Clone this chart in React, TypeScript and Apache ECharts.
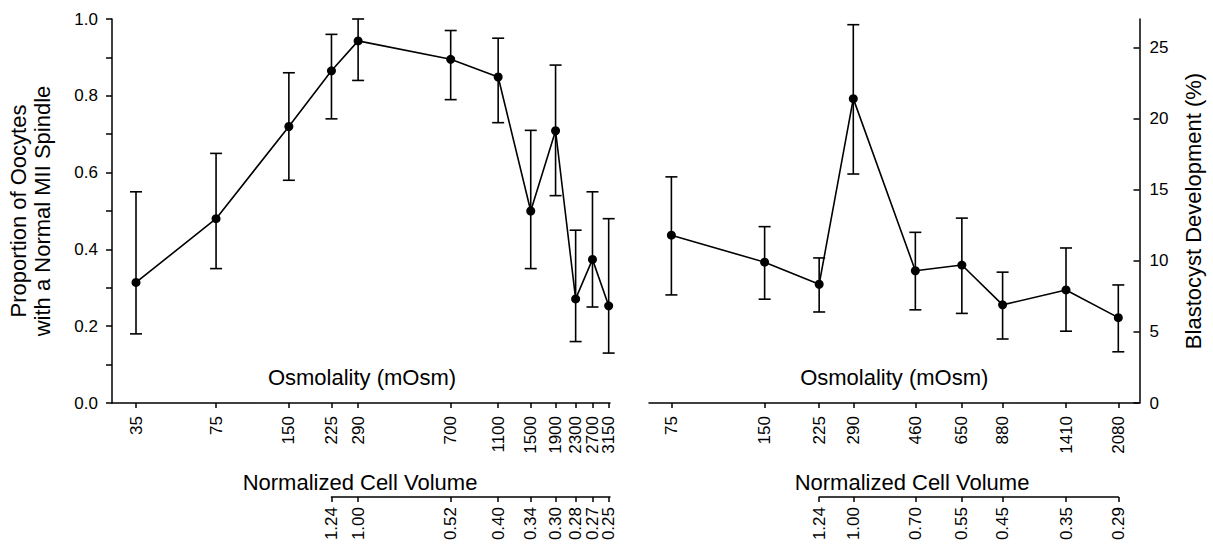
import React, { useEffect, useRef } from 'react';
import * as echarts from 'echarts';

// ---- Left panel: spindle proportion vs osmolality ----
const leftOsm = [35, 75, 150, 225, 290, 700, 1100, 1500, 1900, 2300, 2700, 3150];
const leftSpindle = [0.314, 0.48, 0.72, 0.865, 0.943, 0.895, 0.849, 0.5, 0.709, 0.271, 0.374, 0.253];
const leftLow = [0.18, 0.35, 0.58, 0.74, 0.84, 0.79, 0.73, 0.35, 0.54, 0.16, 0.25, 0.13];
const leftHigh = [0.55, 0.65, 0.86, 0.96, 1.0, 0.97, 0.95, 0.71, 0.88, 0.45, 0.55, 0.48];
const leftNcvOsm = [225, 290, 700, 1100, 1500, 1900, 2300, 2700, 3150];
const leftNcv = ['1.24', '1.00', '0.52', '0.40', '0.34', '0.30', '0.28', '0.27', '0.25'];
const leftYTicks = [0, 0.1, 0.2, 0.3, 0.4, 0.5, 0.6, 0.7, 0.8, 0.9, 1.0];
const leftYLabels = [0, 0.2, 0.4, 0.6, 0.8, 1.0];
const leftXRange = [27.85, 3190];

// ---- Right panel: blastocyst development vs osmolality ----
const rightOsm = [75, 150, 225, 290, 460, 650, 880, 1410, 2080];
const rightBlast = [11.8, 9.9, 8.35, 21.4, 9.3, 9.7, 6.9, 7.95, 6.0];
const rightLow = [7.6, 7.3, 6.4, 16.1, 6.55, 6.3, 4.5, 5.05, 3.6];
const rightHigh = [15.9, 12.4, 10.2, 26.6, 12.0, 13.0, 9.2, 10.9, 8.3];
const rightNcvOsm = [225, 290, 460, 650, 880, 1410, 2080];
const rightNcv = ['1.24', '1.00', '0.70', '0.55', '0.45', '0.35', '0.29'];
const rightYTicks = [0, 5, 10, 15, 20, 25];
const rightYRange = [0, 27];
const rightXRange = [63.5, 2435];

const FONT = 'Arial, "Liberation Sans", Helvetica, sans-serif';
const lg = (v: number) => Math.log10(v);

// layout (pixels)
const G0 = { left: 112, top: 19, width: 498, height: 384 };
const G1 = { left: 649, top: 19, width: 490.5, height: 384 };
const NCV_Y = 497;

export default function App() {
  const ref = useRef<HTMLDivElement>(null);

  useEffect(() => {
    document.body.style.margin = '0';
    if (!ref.current) return;
    const chart = echarts.init(ref.current, undefined, { renderer: 'svg' });

    const lMin = lg(leftXRange[0]);
    const lMax = lg(leftXRange[1]);
    const rMin = lg(rightXRange[0]);
    const rMax = lg(rightXRange[1]);

    // NCV sub-axis grids share the scale of the main axes
    const lNcvMin = lg(leftNcvOsm[0]);
    const lNcvLeft = G0.left + ((lNcvMin - lMin) / (lMax - lMin)) * G0.width;
    const G2 = { left: lNcvLeft, top: NCV_Y - 10, width: G0.left + G0.width - lNcvLeft, height: 10 };
    const rNcvMin = lg(rightNcvOsm[0]);
    const rNcvMax = lg(rightNcvOsm[rightNcvOsm.length - 1]);
    const rNcvLeft = G1.left + ((rNcvMin - rMin) / (rMax - rMin)) * G1.width;
    const rNcvRight = G1.left + ((rNcvMax - rMin) / (rMax - rMin)) * G1.width;
    const G3 = { left: rNcvLeft, top: NCV_Y - 10, width: rNcvRight - rNcvLeft, height: 10 };

    const lineStyle = { color: '#000', width: 1.5 };
    const labelStyle = {
      color: '#000', fontSize: 17, fontFamily: FONT,
      showMinLabel: true, showMaxLabel: true, hideOverlap: false,
    };

    const osmLabel = (v: number) => String(Math.round(Math.pow(10, v)));
    const ncvLabel = (osm: number[], lab: string[]) => (v: number) => {
      const i = osm.findIndex((o) => Math.abs(lg(o) - v) < 1e-6);
      return i >= 0 ? lab[i] : '';
    };
    const even = (a: number[]) => a.filter((_, i) => i % 2 === 0);
    const odd = (a: number[]) => a.filter((_, i) => i % 2 === 1);

    // main axis: line + all ticks + given labels; overlay axis: only labels
    const xAxisMain = (gridIndex: number, min: number, max: number, ticks: number[], labels: number[], margin: number, fmt: any) => ({
      type: 'value', gridIndex, min, max, position: 'bottom',
      axisLine: { show: true, lineStyle }, splitLine: { show: false },
      axisTick: { show: true, customValues: ticks, length: 5, lineStyle },
      axisLabel: { ...labelStyle, customValues: labels, rotate: 90, margin, formatter: fmt },
    });
    const xAxisOverlay = (gridIndex: number, min: number, max: number, labels: number[], margin: number, fmt: any) => ({
      type: 'value', gridIndex, min, max, position: 'bottom',
      axisLine: { show: false }, splitLine: { show: false }, axisTick: { show: false },
      axisLabel: { ...labelStyle, customValues: labels, rotate: 90, margin, formatter: fmt },
    });

    const errRender = (params: any, api: any) => {
      const x = api.value(0);
      const lo = api.value(1);
      const hi = api.value(2);
      const pHi = api.coord([x, hi]);
      const pLo = api.coord([x, lo]);
      const w = 6;
      const style = { stroke: '#000', lineWidth: 1.6, fill: 'none' };
      return {
        type: 'group',
        children: [
          { type: 'line', shape: { x1: pHi[0], y1: pHi[1], x2: pLo[0], y2: pLo[1] }, style },
          { type: 'line', shape: { x1: pHi[0] - w, y1: pHi[1], x2: pHi[0] + w, y2: pHi[1] }, style },
          { type: 'line', shape: { x1: pLo[0] - w, y1: pLo[1], x2: pLo[0] + w, y2: pLo[1] }, style },
        ],
      };
    };

    const leftLog = leftOsm.map(lg);
    const rightLog = rightOsm.map(lg);
    const leftNcvLog = leftNcvOsm.map(lg);
    const rightNcvLog = rightNcvOsm.map(lg);
    const fmtLN = ncvLabel(leftNcvOsm, leftNcv);
    const fmtRN = ncvLabel(rightNcvOsm, rightNcv);

    const gridBase = { containLabel: false, outerBoundsMode: 'none' };

    const option: any = {
      animation: false,
      backgroundColor: '#fff',
      grid: [
        { ...gridBase, ...G0 },
        { ...gridBase, ...G1 },
        { ...gridBase, ...G2 },
        { ...gridBase, ...G3 },
      ],
      xAxis: [
        xAxisMain(0, lMin, lMax, leftLog, even(leftLog), 13, osmLabel),
        xAxisMain(1, rMin, rMax, rightLog, rightLog, 13, osmLabel),
        xAxisMain(2, lNcvMin, lMax, leftNcvLog, even(leftNcvLog), 10, fmtLN),
        xAxisMain(3, rNcvMin, rNcvMax, rightNcvLog, rightNcvLog, 10, fmtRN),
        xAxisOverlay(0, lMin, lMax, odd(leftLog), 13, osmLabel),
        xAxisOverlay(2, lNcvMin, lMax, odd(leftNcvLog), 10, fmtLN),
      ],
      yAxis: [
        {
          type: 'value', gridIndex: 0, min: 0, max: 1, position: 'left',
          axisLine: { show: true, lineStyle }, splitLine: { show: false },
          axisTick: { show: true, customValues: leftYTicks, length: 6, lineStyle },
          axisLabel: { ...labelStyle, customValues: leftYLabels, margin: 14, formatter: (v: number) => v.toFixed(1) },
          name: 'Proportion of Oocytes\nwith a Normal MII Spindle',
          nameLocation: 'middle', nameRotate: 90, nameGap: 58,
          nameTextStyle: { color: '#000', fontSize: 22, lineHeight: 24, fontFamily: FONT },
        },
        {
          type: 'value', gridIndex: 1, min: rightYRange[0], max: rightYRange[1], position: 'right',
          axisLine: { show: true, lineStyle }, splitLine: { show: false },
          axisTick: { show: true, inside: true, customValues: rightYTicks, length: 6, lineStyle },
          axisLabel: { ...labelStyle, customValues: rightYTicks, margin: 10 },
          name: 'Blastocyst Development (%)',
          nameLocation: 'middle', nameRotate: 90, nameGap: 43,
          nameTextStyle: { color: '#000', fontSize: 22, fontFamily: FONT },
        },
        { type: 'value', gridIndex: 2, show: false, min: 0, max: 1 },
        { type: 'value', gridIndex: 3, show: false, min: 0, max: 1 },
      ],
      graphic: [
        { type: 'text', x: G0.left + G0.width / 2 + 1, y: 377, style: { text: 'Osmolality (mOsm)', font: `22px ${FONT}`, fill: '#000', textAlign: 'center', textVerticalAlign: 'middle', verticalAlign: 'middle' } },
        { type: 'text', x: G1.left + G1.width / 2, y: 377, style: { text: 'Osmolality (mOsm)', font: `22px ${FONT}`, fill: '#000', textAlign: 'center', textVerticalAlign: 'middle', verticalAlign: 'middle' } },
        { type: 'text', x: 360, y: 482, style: { text: 'Normalized Cell Volume', font: `22px ${FONT}`, fill: '#000', textAlign: 'center', textVerticalAlign: 'middle', verticalAlign: 'middle' } },
        { type: 'text', x: 912, y: 482, style: { text: 'Normalized Cell Volume', font: `22px ${FONT}`, fill: '#000', textAlign: 'center', textVerticalAlign: 'middle', verticalAlign: 'middle' } },
      ],
      series: [
        {
          type: 'custom', xAxisIndex: 0, yAxisIndex: 0, clip: false, z: 2,
          renderItem: errRender,
          encode: { x: 0, y: [1, 2] },
          data: leftLog.map((x, i) => [x, leftLow[i], leftHigh[i]]),
        },
        {
          type: 'line', xAxisIndex: 0, yAxisIndex: 0, z: 3,
          data: leftLog.map((x, i) => [x, leftSpindle[i]]),
          symbol: 'circle', symbolSize: 9,
          itemStyle: { color: '#000' },
          lineStyle: { color: '#000', width: 1.6 },
        },
        {
          type: 'custom', xAxisIndex: 1, yAxisIndex: 1, clip: false, z: 2,
          renderItem: errRender,
          encode: { x: 0, y: [1, 2] },
          data: rightLog.map((x, i) => [x, rightLow[i], rightHigh[i]]),
        },
        {
          type: 'line', xAxisIndex: 1, yAxisIndex: 1, z: 3,
          data: rightLog.map((x, i) => [x, rightBlast[i]]),
          symbol: 'circle', symbolSize: 9,
          itemStyle: { color: '#000' },
          lineStyle: { color: '#000', width: 1.6 },
        },
      ],
    };

    chart.setOption(option);
    return () => chart.dispose();
  }, []);

  return <div ref={ref} style={{ width: 1213, height: 545, background: '#fff' }} />;
}
